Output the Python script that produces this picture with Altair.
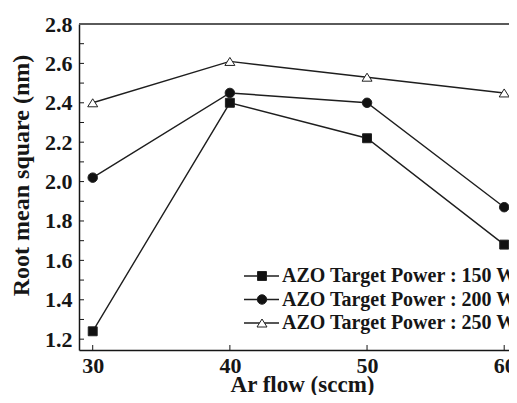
import altair as alt
import pandas as pd

# ---- data ----
ar_flow = [30, 40, 50, 60]
series = ["AZO Target Power : 150 W", "AZO Target Power : 200 W", "AZO Target Power : 250 W"]
rms_150 = [1.24, 2.40, 2.22, 1.68]
rms_200 = [2.02, 2.45, 2.40, 1.87]
rms_250 = [2.40, 2.61, 2.53, 2.45]
x_tick_values = [30, 40, 50, 60]
y_tick_values = [1.2, 1.4, 1.6, 1.8, 2.0, 2.2, 2.4, 2.6, 2.8]
y_minor_values = [1.2, 1.3, 1.4, 1.5, 1.6, 1.7, 1.8, 1.9, 2.0, 2.1, 2.2,
                  2.3, 2.4, 2.5, 2.6, 2.7, 2.8]

rows = []
for name, vals in zip(series, [rms_150, rms_200, rms_250]):
    for f, v in zip(ar_flow, vals):
        rows.append({"flow": f, "rms": v, "series": name})
df = pd.DataFrame(rows)
legend_df = pd.DataFrame({"series": series})
xt_df = pd.DataFrame({"flow": x_tick_values})
yt_df = pd.DataFrame({"rms": y_minor_values})

W, H = 430, 326
FONT = "Liberation Serif, Times New Roman, DejaVu Serif, serif"
INK = "#161616"

xscale = alt.Scale(domain=[29, 60.35], nice=False, zero=False)
yscale = alt.Scale(domain=[1.145, 2.8], nice=False, zero=False)

tri_path = "M0,-0.8L1,0.8L-1,0.8Z"
shape_scale = alt.Scale(domain=series, range=["square", "circle", tri_path])
fill_scale = alt.Scale(domain=series, range=["#111111", "#111111", "#ffffff"])
size_scale = alt.Scale(domain=series, range=[80, 100, 150])

x_axis = alt.Axis(values=x_tick_values, ticks=False, grid=False, domainColor=INK, domainWidth=1.5,
                  labelFont=FONT, labelFontWeight="bold", labelFontSize=22, labelColor=INK,
                  labelPadding=5, labelFlush=False,
                  title="Ar flow (sccm)", titleFont=FONT, titleFontWeight="bold", titleFontSize=23,
                  titleColor=INK, titleBaseline="alphabetic", titleX=223, titleY=41)
y_axis = alt.Axis(values=y_tick_values, format=".1f", ticks=False, grid=False, domainColor=INK,
                  domainWidth=1.5, labelFont=FONT, labelFontWeight="bold", labelFontSize=22,
                  labelColor=INK, labelPadding=7, labelFlush=False, orient="left",
                  title="Root mean square (nm)", titleFont=FONT, titleFontWeight="bold",
                  titleFontSize=24, titleColor=INK, titleAngle=-90, titleBaseline="alphabetic",
                  titleX=-51, titleY=151)

X = alt.X("flow:Q", scale=xscale, axis=x_axis, title="Ar flow (sccm)")
Y = alt.Y("rms:Q", scale=yscale, axis=y_axis, title="Root mean square (nm)")

base = alt.Chart(df)
lines = base.mark_line(color="#1e1e1e", strokeWidth=1.4).encode(
    x=X, y=Y, detail="series:N",
)
points = base.mark_point(filled=True, opacity=1, strokeWidth=1).encode(
    x=X, y=Y,
    shape=alt.Shape("series:N", scale=shape_scale, legend=None),
    fill=alt.Fill("series:N", scale=fill_scale, legend=None),
    size=alt.Size("series:N", scale=size_scale, legend=None),
    stroke=alt.value("#222222"),
)

# inward ticks
y_ticks = alt.Chart(yt_df).mark_rule(color=INK, strokeWidth=1).encode(
    y=Y, x=alt.value(0), x2=alt.value(5))
x_ticks = alt.Chart(xt_df).mark_rule(color=INK, strokeWidth=1).encode(
    x=X, y=alt.value(H), y2=alt.value(H - 5))
top_line = alt.Chart(legend_df).mark_rule(color="#5a5a5a", strokeWidth=2).encode(
    y=alt.value(0), x=alt.value(0), x2=alt.value(W + 10))

main = alt.layer(lines, points, y_ticks, x_ticks, top_line)

# legend
leg_y = alt.Y("series:N", scale=alt.Scale(type="point", domain=series, range=[252, 299], padding=0),
              axis=None)
leg_base = alt.Chart(legend_df)
leg_lines = leg_base.mark_rule(color="#1e1e1e", strokeWidth=1.4).encode(
    y=leg_y, x=alt.value(165), x2=alt.value(200))
leg_pts = leg_base.mark_point(filled=True, opacity=1, strokeWidth=1).encode(
    y=leg_y, x=alt.value(183),
    shape=alt.Shape("series:N", scale=shape_scale, legend=None),
    fill=alt.Fill("series:N", scale=fill_scale, legend=None),
    size=alt.Size("series:N", scale=size_scale, legend=None),
    stroke=alt.value("#222222"),
)
leg_text = leg_base.mark_text(align="left", baseline="middle", font=FONT, fontWeight="bold",
                              fontSize=20, color=INK).encode(
    y=leg_y, x=alt.value(203), text="series:N")
legend = alt.layer(leg_lines, leg_pts, leg_text)

chart = alt.layer(main, legend).resolve_scale(y="independent").properties(
    width=W, height=H, autosize="none",
    padding={"left": 71, "top": 16, "right": 0, "bottom": 45},
).configure_view(stroke=None)

chart.save("out.html", embed_options={"renderer": "svg", "actions": False})
